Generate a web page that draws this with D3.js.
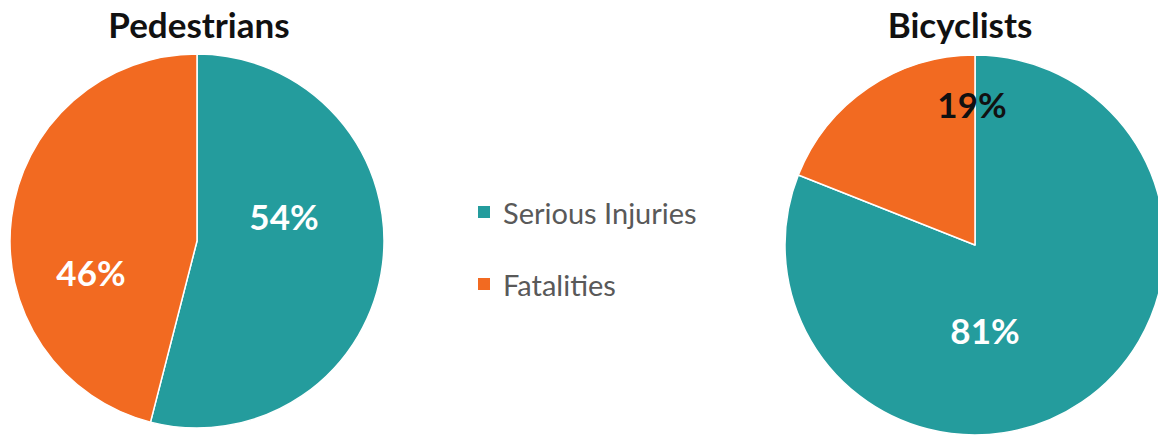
<!DOCTYPE html>
<html>
<head>
<meta charset="utf-8">
<script src="https://cdn.jsdelivr.net/npm/d3@7"></script>
<style>
  html, body { margin: 0; padding: 0; background: #ffffff; }
  svg { display: block; }
</style>
</head>
<body>
<svg id="chart" width="1158" height="437"></svg>
<script>
// Share of serious injuries vs. fatalities, by road-user group
const categories = ["Serious Injuries", "Fatalities"];
const groups = ["Pedestrians", "Bicyclists"];
const pedestrianValues = [54, 46];
const bicyclistValues = [81, 19];

const colors = d3.scaleOrdinal()
  .domain(categories)
  .range(["#249c9d", "#f26a21"]);

const svg = d3.select("#chart");
const fontFamily = "Lato, 'Open Sans', 'DejaVu Sans', sans-serif";

// Layout of each pie: centre, radius and where its percentage labels sit
const layout = [
  { cx: 197, cy: 241, r: 187, titleX: 199,
    labels: [{ dx: 87, dy: -25, fill: "#ffffff" }, { dx: -106, dy: 31, fill: "#ffffff" }] },
  { cx: 975, cy: 245, r: 190, titleX: 960,
    labels: [{ dx: 10, dy: 85, fill: "#ffffff" }, { dx: -3, dy: -141, fill: "#111111" }] }
];

const seriesByGroup = [pedestrianValues, bicyclistValues];

const pie = d3.pie().sort(null).value(d => d.value);

groups.forEach((name, gi) => {
  const L = layout[gi];
  const data = categories.map((c, i) => ({ category: c, value: seriesByGroup[gi][i] }));
  const arcs = pie(data);
  const arc = d3.arc().innerRadius(0).outerRadius(L.r);

  const g = svg.append("g").attr("transform", `translate(${L.cx},${L.cy})`);

  g.selectAll("path.slice")
    .data(arcs)
    .join("path")
    .attr("class", "slice")
    .attr("d", arc)
    .attr("fill", d => colors(d.data.category))
    .attr("stroke", "#ffffff")
    .attr("stroke-width", 1.5)
    .attr("stroke-linejoin", "round");

  g.selectAll("text.pct")
    .data(arcs)
    .join("text")
    .attr("class", "pct")
    .attr("x", (d, i) => L.labels[i].dx)
    .attr("y", (d, i) => L.labels[i].dy)
    .attr("text-anchor", "middle")
    .attr("dominant-baseline", "central")
    .attr("font-family", fontFamily)
    .attr("font-weight", 700)
    .attr("font-size", 35)
    .attr("fill", (d, i) => L.labels[i].fill)
    .text(d => d.data.value + "%");

  svg.append("text")
    .attr("x", L.titleX)
    .attr("y", 38)
    .attr("text-anchor", "middle")
    .attr("font-family", fontFamily)
    .attr("font-weight", 700)
    .attr("font-size", 35)
    .attr("fill", "#111111")
    .text(name);
});

// Legend
const legend = svg.append("g").attr("transform", "translate(478,212)");
const items = legend.selectAll("g.item")
  .data(categories)
  .join("g")
  .attr("class", "item")
  .attr("transform", (d, i) => `translate(0,${i * 72})`);

items.append("rect")
  .attr("x", 0)
  .attr("y", -6)
  .attr("width", 12)
  .attr("height", 12)
  .attr("fill", d => colors(d));

items.append("text")
  .attr("x", 25)
  .attr("y", 0)
  .attr("dominant-baseline", "central")
  .attr("font-family", fontFamily)
  .attr("font-size", 29)
  .attr("fill", "#595959")
  .text(d => d);
</script>
</body>
</html>
